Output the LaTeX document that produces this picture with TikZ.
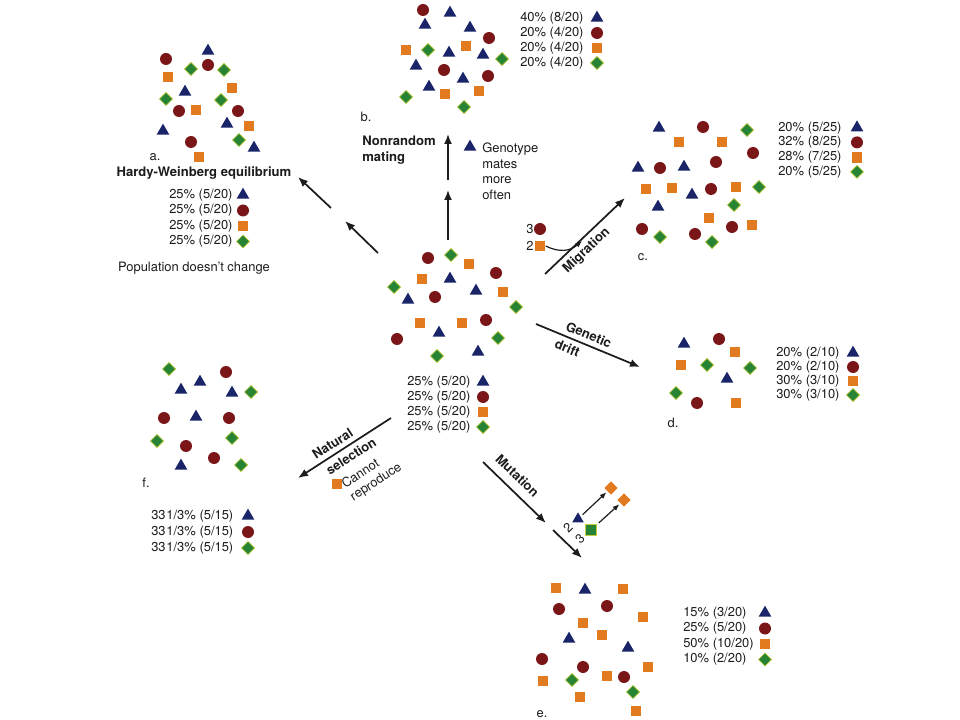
\documentclass[tikz,border=0pt]{standalone}
\usepackage{fontspec}
\setmainfont{TeX Gyre Heros}
\usetikzlibrary{shapes.geometric,arrows.meta}

\definecolor{triblue}{RGB}{26,36,104}
\definecolor{dotred}{RGB}{122,22,24}
\definecolor{sqorange}{RGB}{226,122,32}
\definecolor{diagreen}{RGB}{38,132,52}
\definecolor{diaedge}{RGB}{196,206,64}
\definecolor{ink}{RGB}{28,28,28}

\begin{document}
\begin{tikzpicture}[x=0.75pt,y=-0.75pt,>={Latex[length=7.5pt,width=6pt]},
    font=\fontsize{9.7}{11.6}\selectfont, text=ink,
    tri/.style={regular polygon,regular polygon sides=3,fill=triblue,inner sep=0pt,minimum size=11pt},
    dot/.style={circle,fill=dotred,inner sep=0pt,minimum size=9pt},
    sq/.style={rectangle,fill=sqorange,inner sep=0pt,minimum size=8.2pt},
    dia/.style={diamond,fill=diagreen,draw=diaedge,line width=0.5pt,inner sep=0pt,minimum size=10pt},
    odia/.style={dia,fill=sqorange,draw=none},
    gsq/.style={sq,fill=diagreen,draw=diaedge,line width=0.5pt},
    row/.style={anchor=west,inner sep=0pt},
    head/.style={font=\fontsize{9.8}{11.6}\selectfont\bfseries},
    force/.style={->,draw=ink,line width=1.3pt},
    nudge/.style={-{Latex[length=5pt,width=4pt]},draw=ink,line width=0.9pt}]

  \useasboundingbox (0,0) rectangle (960,720);

  % starting population
  \foreach \s/\x/\y [count=\i] in {dot/428/258, dia/451/255, sq/469/264, dot/496/273, sq/422/279,
      tri/450/279, dia/394/287, tri/476/291, sq/503/292, tri/408/300, dot/435/297, dia/516/307,
      sq/420/323, sq/462/323, dot/486/320, tri/439/333, dot/397/339, dia/498/338, dia/437/356, tri/478/352}
    \node[\s] (p\i) at (\x,\y) {};
  \foreach \pc/\k/\m/\s [count=\i] in {25/5/20/tri,25/5/20/dot,25/5/20/sq,25/5/20/dia} {
    \node[row] (pt\i) at (407,367+15*\i) {\pc\% (\k/\m)};
    \node[\s] (ps\i) at (483,367+15*\i) {};
  }

  % a
  \foreach \s/\x/\y [count=\i] in {tri/208/51, dot/166/59, dia/191/69, dot/208/65, dia/224/70,
      sq/168/77, sq/232/88, tri/185/92, dia/166/99, dia/221/100, dot/179/111, sq/196/110, dot/238/111,
      tri/227/124, sq/249/126, tri/163/131, dia/239/140, dot/191/142, tri/254/148, sq/199/157}
    \node[\s] (a\i) at (\x,\y) {};
  \node (aTag) at (155,157) {a.};
  \node[head] (aHead) at (204,173) {Hardy-Weinberg equilibrium};
  \foreach \s [count=\i] in {tri,dot,sq,dia} {
    \node[row] (at\i) at (169,179.5+15.5*\i) {25\% (5/20)};
    \node[\s] (as\i) at (243,179.5+15.5*\i) {};
  }
  \node (aNote) at (194,268) {Population doesn't change};

  \coordinate (aFrom) at (378,253);
  \coordinate (aMid) at (345,221);
  \coordinate (aNext) at (331,208);
  \coordinate (aTo) at (298,177);
  \draw[force] (aFrom) -- (aMid);
  \draw[force] (aNext) -- (aTo);

  % b
  \foreach \s/\x/\y [count=\i] in {dot/423/10, tri/450/13, tri/425/25, tri/470/28, dot/489/38,
      sq/406/50, dia/428/50, sq/466/46, tri/449/53, tri/483/55, dia/502/59, tri/416/66, dot/444/70,
      dot/488/76, tri/463/79, tri/429/87, sq/445/94, sq/479/91, dia/406/97, dia/464/107}
    \node[\s] (b\i) at (\x,\y) {};
  \node (bTag) at (366,117) {b.};
  \foreach \pc/\k/\m/\s [count=\i] in {40/8/20/tri,20/4/20/dot,20/4/20/sq,20/4/20/dia} {
    \node[row] (bt\i) at (520,3+15*\i) {\pc\% (\k/\m)};
    \node[\s] (bs\i) at (597,3+15*\i) {};
  }
  \node[head,align=left,anchor=west,inner sep=0pt] (bHead) at (362,150) {Nonrandom\\mating};
  \node[tri] (bTri) at (470,147) {};
  \node[align=left,anchor=north west,inner sep=0pt] (bNote) at (482,143) {Genotype\\mates\\more\\often};

  \coordinate (bFrom) at (448,240);
  \coordinate (bMid) at (448,190);
  \coordinate (bNext) at (448,180);
  \coordinate (bTo) at (448,134);
  \draw[force] (bFrom) -- (bMid);
  \draw[force] (bNext) -- (bTo);

  % c
  \foreach \s/\x/\y [count=\i] in {tri/659/128, dot/703/127, dia/747/130, sq/679/142, sq/722/142,
      dot/753/153, tri/638/168, dot/660/168, tri/684/167, dot/716/162, sq/646/189, sq/672/188,
      tri/692/195, dot/711/189, sq/736/187, dia/759/187, tri/658/207, dia/734/205, sq/709/218,
      sq/752/225, dot/642/229, dia/660/237, dot/695/234, dot/732/227, dia/712/242}
    \node[\s] (c\i) at (\x,\y) {};
  \node (cTag) at (643,257) {c.};
  \foreach \pc/\k/\m/\s [count=\i] in {20/5/25/tri,32/8/25/dot,28/7/25/sq,20/5/25/dia} {
    \node[row] (ct\i) at (778,113+14.7*\i) {\pc\% (\k/\m)};
    \node[\s] (cs\i) at (857,113+14.7*\i) {};
  }

  \coordinate (cFrom) at (545,274);
  \coordinate (cTo) at (625,198);
  \draw[force] (cFrom) -- node[head,sloped,below,pos=.42] (cLab) {Migration} (cTo);
  \node (c3) at (530,229) {3};
  \node[dot] (c3s) at (540,229) {};
  \node (c2) at (530,246) {2};
  \node[sq] (c2s) at (540,246) {};
  \coordinate (cJoin) at (582,241);
  \draw[nudge] (c2s.east) .. controls (560,253) and (570,251) .. (cJoin);

  % d
  \foreach \s/\x/\y [count=\i] in {tri/684/344, dot/719/339, sq/735/352, sq/681/365, dia/707/365,
      dia/750/368, tri/727/379, dia/676/393, dot/697/403, sq/736/403}
    \node[\s] (d\i) at (\x,\y) {};
  \node (dTag) at (673,423) {d.};
  \foreach \pc/\k/\m/\s [count=\i] in {20/2/10/tri,20/2/10/dot,30/3/10/sq,30/3/10/dia} {
    \node[row] (dt\i) at (776,339+14*\i) {\pc\% (\k/\m)};
    \node[\s] (ds\i) at (853,339+14*\i) {};
  }

  \coordinate (dFrom) at (536,324);
  \coordinate (dTo) at (640,367);
  \draw[force] (dFrom) -- node[head,sloped,above,pos=.47] (dLab) {Genetic}
    node[head,sloped,below,pos=.34] (dLab2) {drift} (dTo);

  % e
  \foreach \s/\x/\y [count=\i] in {sq/556/588, tri/585/590, sq/623/589, dot/559/609, dot/607/606,
      sq/643/617, sq/583/623, sq/602/635, tri/569/639, tri/628/648, dot/542/659, dot/583/667,
      sq/648/667, sq/543/681, dia/572/680, sq/607/676, dot/624/677, dia/633/692, sq/580/697, sq/636/711}
    \node[\s] (e\i) at (\x,\y) {};
  \node (eTag) at (542,714) {e.};
  \foreach \pc/\k/\m/\s [count=\i] in {15/3/20/tri,25/5/20/dot,50/10/20/sq,10/2/20/dia} {
    \node[row] (et\i) at (683,597.5+15.5*\i) {\pc\% (\k/\m)};
    \node[\s] (es\i) at (765,597.5+15.5*\i) {};
  }

  \coordinate (eFrom) at (483,462);
  \coordinate (eMid) at (546,523);
  \coordinate (eNext) at (553,530);
  \coordinate (eTo) at (582,558);
  \draw[force] (eFrom) -- node[head,sloped,above=3pt,pos=.39] (eLab) {Mutation} (eMid);
  \draw[force] (eNext) -- (eTo);
  \node[tri,minimum size=10pt] (eTri) at (578,519) {};
  \node[rotate=45] (e2) at (568,528) {2};
  \node[gsq] (eSq) at (591,530) {};
  \node[rotate=45] (e3) at (580,539) {3};
  \node[odia] (eD1) at (611,488) {};
  \node[odia] (eD2) at (624,500) {};
  \draw[nudge,shorten <=2pt,shorten >=1pt] (eTri) -- (eD1);
  \draw[nudge,shorten <=2pt,shorten >=1pt] (eSq) -- (eD2);

  % f
  \foreach \s/\x/\y [count=\i] in {dia/169/369, dot/226/372, tri/181/390, tri/200/382, tri/232/393,
      dia/251/392, dot/164/418, tri/196/417, dot/229/418, dia/157/441, dia/232/438, dot/186/446,
      dot/214/458, tri/181/466, dia/241/465}
    \node[\s] (f\i) at (\x,\y) {};
  \node (fTag) at (146,483) {f.};
  \foreach \s [count=\i] in {tri,dot,dia} {
    \node[row] (ft\i) at (151,500+16*\i) {33\kern0.6pt1/3\% (5/15)};
    \node[\s] (fs\i) at (248,500+16*\i) {};
  }

  \coordinate (fFrom) at (391,418);
  \coordinate (fTo) at (298,478);
  \draw[force,<-] (fTo) -- node[head,sloped,above,pos=.43] (fLab) {Natural}
    node[head,sloped,below,pos=.51] (fLab2) {selection} (fFrom);
  \node[sq] (fSq) at (337,484) {};
  \node[rotate=33,align=left] (fNote) at (372,476) {Cannot\\reproduce};

\end{tikzpicture}
\end{document}
